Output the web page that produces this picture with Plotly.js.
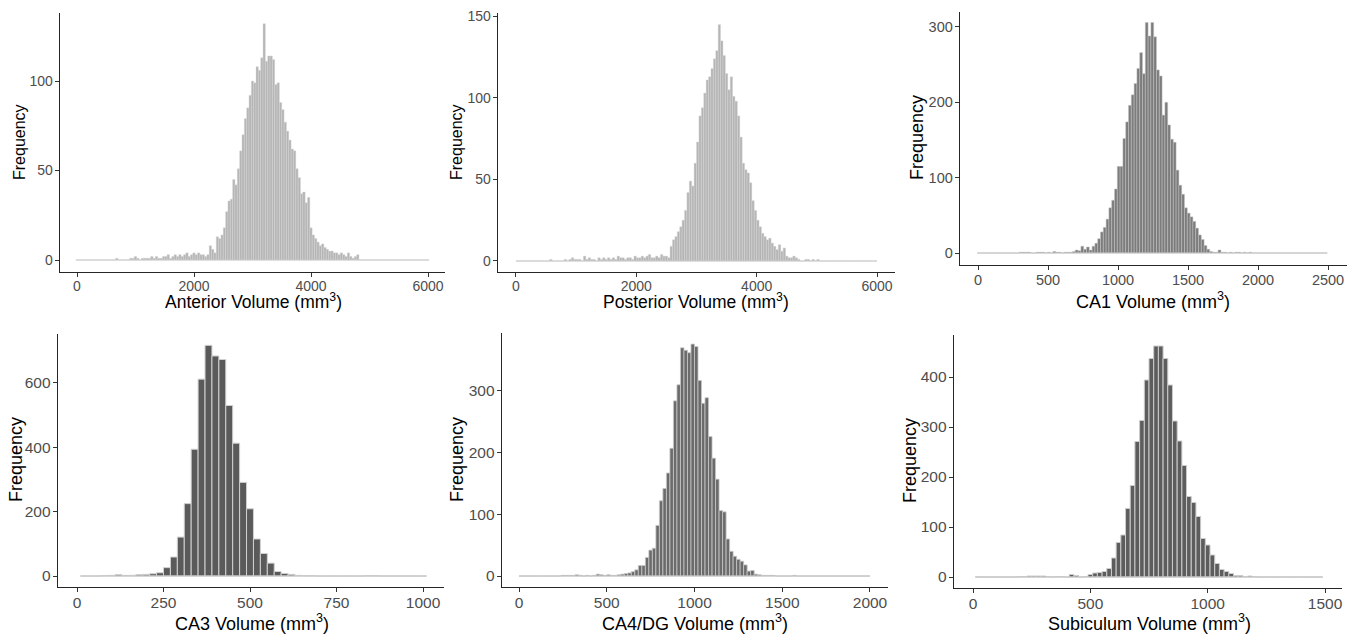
<!DOCTYPE html>
<html>
<head>
<meta charset="utf-8">
<script src="https://cdn.plot.ly/plotly-3.0.1.min.js"></script>
<style>html,body{margin:0;padding:0;background:#fff;}#chart{width:1355px;height:635px;}</style>
</head>
<body>
<div id="chart"></div>
<script>
// ---------------- DATA (histogram counts) ----------------
// Anterior: bin width 40, first bin centre 0
const anteriorStart = 0, anteriorWidth = 40;
const anteriorCounts = [
  0,0,0,0,0,0,0,0,0,0,0,0,0,0,0,0,0,1,0,0,
  0,0,0,1,1,2,1,0,1,1,1,1,2,1,2,1,1,2,2,3,
  1,2,3,2,3,2,3,4,2,3,4,3,4,3,3,2,3,8,6,4,
  13,12,14,18,27,33,34,45,42,51,61,70,79,85,92,100,99,108,106,113,
  132,111,114,114,112,98,99,88,84,77,72,67,62,61,51,46,37,38,32,35,
  18,14,12,10,8,9,7,6,5,5,4,4,3,4,3,2,4,2,1,2,
  3,0,0,0,0,0,0,0,0,0,0,0,0,0,0,0,0,0,0,0,
  0,0,0,0,0,0,0,0,0,0,0
];
// Posterior: bin width 40, first bin centre 20
const posteriorStart = 20, posteriorWidth = 40;
const posteriorCounts = [
  0,0,0,0,0,0,0,0,0,0,0,0,0,0,1,0,0,0,0,0,
  1,0,1,2,1,1,1,0,3,1,2,1,1,0,2,1,2,1,2,1,
  2,1,3,2,2,1,2,2,1,3,2,2,3,2,3,4,2,2,3,2,
  4,3,3,2,9,13,15,18,21,25,31,42,49,46,60,73,89,94,103,111,
  113,118,124,129,145,135,126,115,105,113,101,98,89,76,60,56,54,48,37,31,
  25,21,17,15,13,14,11,9,7,10,6,8,3,2,2,3,2,1,0,0,
  1,1,0,1,0,1,0,0,0,0,0,0,0,0,0,0,0,0,0,0,
  0,0,0,0,0,0,0,0,0,0
];
// CA1: bin width 20, first bin centre 5
const ca1Start = 5, ca1Width = 20;
const ca1Counts = [
  0,0,0,0,0,0,0,0,0,0,0,0,0,0,0,1,1,1,1,0,
  0,1,1,1,0,1,0,2,1,1,0,1,1,1,2,4,3,9,5,8,
  4,9,13,19,28,34,45,60,70,85,115,115,152,174,196,210,225,245,266,238,
  306,288,306,287,243,235,183,200,170,151,147,110,90,78,60,53,48,42,33,24,
  18,10,5,2,1,1,4,1,1,0,1,0,1,1,0,1,0,1,0,0,
  0,0,0,0,0,0,0,0,0,0,0,0,0,0,0,0,0,0,0,0,
  0,0,0,0,0
];
// CA3: bin width 20, first bin centre 20
const ca3Start = 20, ca3Width = 20;
const ca3Counts = [
  0,0,0,1,2,4,2,2,4,5,7,10,26,59,121,225,394,612,717,684,
  673,530,413,291,209,115,70,40,14,8,5,2,1,1,0,0,0,0,0,0,
  0,1,1,0,0,0,0,0,0,0
];
// CA4/DG: bin width 20, first bin centre 10
const ca4Start = 10, ca4Width = 20;
const ca4Counts = [
  0,0,0,0,0,0,0,0,0,0,0,0,1,1,1,1,2,1,0,1,
  0,1,3,2,1,2,1,1,2,3,4,5,7,10,17,17,30,42,45,82,
  122,142,167,207,284,310,370,366,362,376,372,317,280,289,226,191,157,106,104,60,
  40,32,27,24,18,8,9,3,2,1,1,1,1,0,0,0,0,0,1,0,
  0,0,0,0,0,0,0,0,0,0,0,0,0,0,0,0,0,0,0,0
];
// Subiculum: bin width 20, first bin centre 20
const subStart = 20, subWidth = 20;
const subCounts = [
  0,0,0,0,0,0,0,0,0,1,1,2,2,2,2,1,0,1,1,0,
  5,3,0,1,5,8,9,11,17,38,69,84,137,183,271,313,394,437,462,462,
  437,384,312,272,223,161,149,121,77,64,44,27,15,11,7,3,3,1,2,1,
  0,0,0,0,0,0,0,0,0,0,0,0,0,0
];

// Axis labels and ticks
const xTitles = ["Anterior Volume (mm<sup>3</sup>)", "Posterior Volume (mm<sup>3</sup>)", "CA1 Volume (mm<sup>3</sup>)",
                 "CA3 Volume (mm<sup>3</sup>)", "CA4/DG Volume (mm<sup>3</sup>)", "Subiculum Volume (mm<sup>3</sup>)"];
const yTitle = "Frequency";
const xTicks = [[0,2000,4000,6000],[0,2000,4000,6000],[0,500,1000,1500,2000,2500],
                [0,250,500,750,1000],[0,500,1000,1500,2000],[0,500,1000,1500]];
const yTicks = [[0,50,100],[0,50,100,150],[0,100,200,300],
                [0,200,400,600],[0,100,200,300],[0,100,200,300,400]];

// ---------------- LAYOUT / STYLE ----------------
const W = 1355, H = 635;
const FONT = "Liberation Sans, Arial, Helvetica, sans-serif";
const panels = [
  {counts: anteriorCounts, start: anteriorStart, width: anteriorWidth, fill: "#b5b5b5", line: "#dadada", lw: 0.4,
   px: [60, 445], py: [13, 272], xr: [-290.6, 6290.6], yr: [-6.7, 138.0], tf: 14,
   xt: [253, 301], yt: [19, 142], xf: 17.5, yf: 16},
  {counts: posteriorCounts, start: posteriorStart, width: posteriorWidth, fill: "#b5b5b5", line: "#dadada", lw: 0.4,
   px: [498, 895], py: [13, 272], xr: [-299, 6299], yr: [-6.75, 152.1], tf: 14,
   xt: [696, 301], yt: [456, 142], xf: 17.5, yf: 16},
  {counts: ca1Counts, start: ca1Start, width: ca1Width, fill: "#7c7c7c", line: "#c4c4c4", lw: 0.5,
   px: [960, 1347], py: [12, 265], xr: [-128.6, 2635.7], yr: [-15.9, 319.9], tf: 14.5,
   xt: [1153, 300], yt: [917, 138], xf: 18, yf: 18},
  {counts: ca3Counts, start: ca3Start, width: ca3Width, fill: "#5a5a5a", line: "#d0d0d0", lw: 1,
   px: [58, 444], py: [334, 587], xr: [-54.9, 1060.7], yr: [-34.2, 752.3], tf: 15.5,
   xt: [252, 622], yt: [16, 460], xf: 18, yf: 18},
  {counts: ca4Counts, start: ca4Start, width: ca4Width, fill: "#6b6b6b", line: "#c8c8c8", lw: 0.8,
   px: [502, 888], py: [333, 587], xr: [-96.9, 2102.6], yr: [-17.8, 394], tf: 15.5,
   xt: [695, 622], yt: [457, 460], xf: 18, yf: 18},
  {counts: subCounts, start: subStart, width: subWidth, fill: "#5d5d5d", line: "#cccccc", lw: 1,
   px: [954, 1342], py: [335, 588], xr: [-81, 1572.4], yr: [-22, 484], tf: 15.5,
   xt: [1149, 622], yt: [910, 461], xf: 18, yf: 18}
];

const traces = [];
const layout = {
  width: W, height: H, margin: {l: 0, r: 0, t: 0, b: 0},
  paper_bgcolor: "#ffffff", plot_bgcolor: "rgba(0,0,0,0)",
  showlegend: false, bargap: 0, barmode: "overlay",
  font: {family: FONT},
  annotations: []
};

panels.forEach((p, i) => {
  const sfx = i === 0 ? "" : String(i + 1);
  const xa = "x" + sfx, ya = "y" + sfx;
  const centers = p.counts.map((_, k) => p.start + k * p.width);
  const x0 = centers[0] - p.width / 2, x1 = centers[centers.length - 1] + p.width / 2;
  traces.push({type: "scatter", mode: "lines", x: [x0, x1], y: [0, 0], xaxis: xa, yaxis: ya,
               line: {color: "#c6c6c6", width: 1}, hoverinfo: "skip"});
  traces.push({type: "bar", x: centers, y: p.counts, width: p.width, xaxis: xa, yaxis: ya,
               marker: {color: p.fill, line: {color: p.line, width: p.lw}}, hoverinfo: "x+y"});
  const axCommon = {showline: true, linecolor: "#262626", linewidth: 1.3, ticks: "outside", ticklen: 4,
                    tickwidth: 1, tickcolor: "#333333", showgrid: false, zeroline: false, fixedrange: true,
                    tickfont: {family: FONT, size: p.tf, color: "#4d4d4d"}};
  layout["xaxis" + sfx] = Object.assign({}, axCommon, {
    domain: [p.px[0] / W, p.px[1] / W], range: p.xr, anchor: ya, ticklabelstandoff: -3,
    tickmode: "array", tickvals: xTicks[i], ticktext: xTicks[i].map(String)});
  layout["yaxis" + sfx] = Object.assign({}, axCommon, {
    domain: [1 - p.py[1] / H, 1 - p.py[0] / H], range: p.yr, anchor: xa, ticklabelstandoff: -1,
    tickmode: "array", tickvals: yTicks[i], ticktext: yTicks[i].map(String)});
  layout.annotations.push({xref: "paper", yref: "paper", x: p.xt[0] / W, y: 1 - p.xt[1] / H,
    xanchor: "center", yanchor: "middle", showarrow: false, text: xTitles[i],
    font: {family: FONT, size: p.xf, color: "#000000"}});
  layout.annotations.push({xref: "paper", yref: "paper", x: p.yt[0] / W, y: 1 - p.yt[1] / H,
    xanchor: "center", yanchor: "middle", showarrow: false, text: yTitle, textangle: -90,
    font: {family: FONT, size: p.yf, color: "#000000"}});
});

Plotly.newPlot("chart", traces, layout, {displayModeBar: false, staticPlot: true});
</script>
</body>
</html>
